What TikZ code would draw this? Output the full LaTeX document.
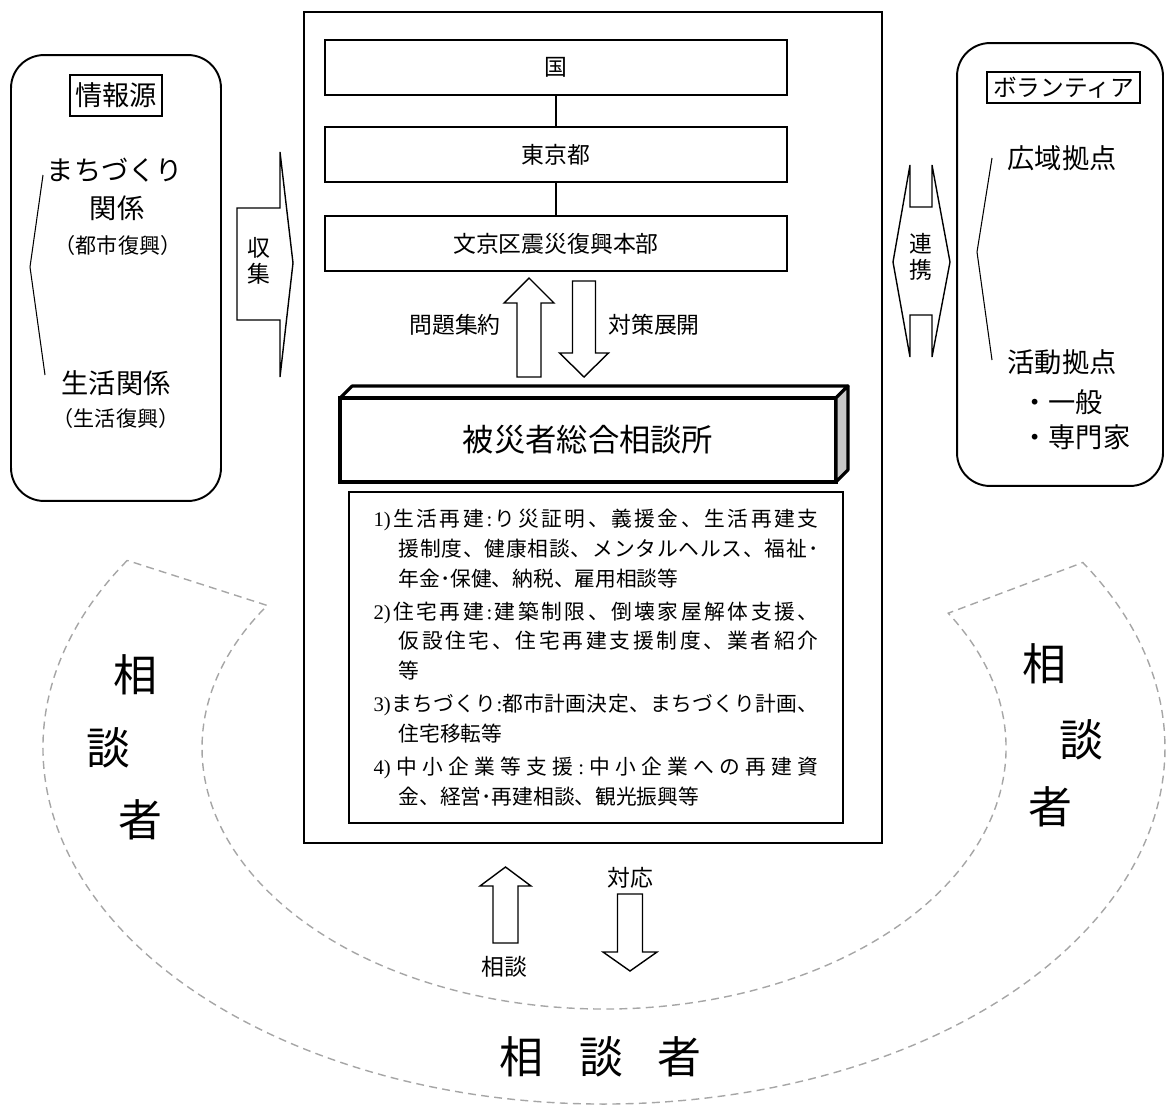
\documentclass[tikz,border=0pt]{standalone}
\usepackage{fontspec}
\setmainfont{Noto Sans CJK JP}
\newfontfamily\numfont{Liberation Serif}
\usetikzlibrary{calc, positioning}

\definecolor{ringgray}{RGB}{166,166,166}
\definecolor{sidegray}{RGB}{200,200,200}

\ExplSyntaxOn
\NewDocumentCommand{\spreadline}{mm}
  {
    \makebox[#1][s]{ \tl_map_inline:nn {#2} { \group_begin: ##1 \group_end: \hfil } \unskip }
  }
\ExplSyntaxOff

\tikzset{
    outerframe/.style={draw, line width=1.1pt},
    govbox/.style={draw, line width=1pt, minimum width=9.24cm, minimum height=1.1cm, font=\fontsize{13}{15}\selectfont},
    link/.style={line width=0.8pt},
    office/.style={draw, line width=2.2pt, outer sep=0pt, minimum width=9.92cm, minimum height=1.68cm, font=\fontsize{17.8}{20}\selectfont},
    officeface/.style={draw, line width=1.8pt, line join=round},
    services/.style={draw, line width=1pt, minimum width=9.88cm, minimum height=6.62cm, align=left, inner sep=0pt, font=\fontsize{11.8}{17}\selectfont},
    sidebox/.style={draw, line width=1.1pt, rounded corners=0.66cm},
    tagbox/.style={draw, line width=1.1pt, inner sep=1pt},
    srctext/.style={inner sep=0pt, font=\fontsize{15.5}{18}\selectfont},
    subtext/.style={inner sep=0pt, font=\fontsize{12}{14}\selectfont},
    armtext/.style={inner sep=0pt, font=\fontsize{13}{14.5}\selectfont, align=center},
    blockarrow/.style={draw, line width=0.8pt, fill=white},
    bracket/.style={line width=0.6pt},
    ring/.style={draw=ringgray, line width=0.8pt, dash pattern=on 4.5pt off 3pt},
    bigchar/.style={inner sep=0pt, font=\fontsize{25}{25}\selectfont}
}

% centre x, tail y, head base y, tip y, half shaft, half head
\newcommand{\vblock}[6]{%
    \draw[blockarrow] ({#1-#5},#2) -- ({#1-#5},#3) -- ({#1-#6},#3) -- (#1,#4)
        -- ({#1+#6},#3) -- ({#1+#5},#3) -- ({#1+#5},#2) -- cycle;}

\begin{document}
\begin{tikzpicture}[x=0.02cm, y=0.02cm]
    \useasboundingbox (0,0) rectangle (1166,-1109);

    \coordinate (rc) at (604,-748);
    \draw[ring] ($(rc)+(148.2:561 and 356)$)
        arc[start angle=148.2, end angle=391.4, x radius=561, y radius=356]
        -- ($(rc)+(31.1:402 and 261)$)
        arc[start angle=391.1, end angle=146.9, x radius=402, y radius=261] -- cycle;

    \node[outerframe, minimum width=11.56cm, minimum height=16.62cm] (frame) at (593,-427.5) {};
    \node[govbox] (kuni) at (556,-67.5) {国};
    \node[govbox] (tokyo) at (556,-154.5) {東京都};
    \node[govbox] (bunkyo) at (556,-243.5) {文京区震災復興本部};
    \draw[link] (kuni) -- (tokyo);
    \draw[link] (tokyo) -- (bunkyo);

    \vblock{529}{-377}{-303}{-278}{12}{25}
    \vblock{584}{-281}{-353}{-377}{11.5}{24.5}
    \node[armtext] (gather) at (455,-325) {問題集約};
    \node[armtext] (deploy) at (654,-325) {対策展開};

    \node[office] (desk) at (588,-440) {被災者総合相談所};
    \draw[officeface] (desk.north west) -- ++(12,12) -- ($(desk.north east)+(12,12)$) -- (desk.north east) -- cycle;
    \draw[officeface, fill=sidegray] (desk.north east) -- ++(12,12) -- ($(desk.south east)+(12,12)$) -- (desk.south east) -- cycle;

    \node[services] (menu) at (596,-657.5) {%
        \spreadline{8.9cm}{{\numfont 1)}生活再建{\numfont :}り災証明、義援金、生活再建支}\\
        \hspace*{0.5cm}\spreadline{8.4cm}{援制度、健康相談、メンタルヘルス、福祉･}\\
        \hspace*{0.5cm}年金･保健、納税、雇用相談等\\[1.7pt]
        \spreadline{8.9cm}{{\numfont 2)}住宅再建{\numfont :}建築制限、倒壊家屋解体支援、}\\
        \hspace*{0.5cm}\spreadline{8.4cm}{仮設住宅、住宅再建支援制度、業者紹介}\\
        \hspace*{0.5cm}等\\[1.7pt]
        \spreadline{8.9cm}{{\numfont 3)}まちづくり{\numfont :}都市計画決定、まちづくり計画、}\\
        \hspace*{0.5cm}住宅移転等\\[1.7pt]
        \spreadline{8.9cm}{{\numfont 4)}中小企業等支援{\numfont :}中小企業への再建資}\\
        \hspace*{0.5cm}金、経営･再建相談、観光振興等};

    % information sources
    \node[sidebox, minimum width=4.2cm, minimum height=8.92cm] (sources) at (116,-278) {};
    \node[tagbox, minimum width=1.84cm, minimum height=0.82cm, font=\fontsize{15.5}{18}\selectfont] (srctag) at (116,-95.5) {情報源};
    \node[srctext] (machi) at (115,-170) {まちづくり};
    \node[srctext] (machib) at (117,-208) {関係};
    \node[subtext] (machic) at (118,-245) {（都市復興）};
    \node[srctext] (life) at (116,-383) {生活関係};
    \node[subtext] (lifeb) at (116,-418) {（生活復興）};
    \draw[bracket] (43,-175) -- (30,-267) -- (45,-375);

    \draw[blockarrow] (237,-208) -- (280,-208) -- (280,-152) -- (293,-263) -- (280,-377) -- (280,-320) -- (237,-320) -- cycle;
    \node[armtext] (collect) at (259,-261) {収\\集};

    % volunteers
    \node[sidebox, minimum width=4.12cm, minimum height=8.86cm] (volunteers) at (1060,-264.5) {};
    \node[tagbox, minimum width=3.06cm, minimum height=0.62cm, font=\fontsize{13.5}{15}\selectfont] (voltag) at (1063.5,-87.5) {ボランティア};
    \node[srctext] (wide) at (1062,-158) {広域拠点};
    \node[srctext] (base) at (1062,-362) {活動拠点};
    \node[srctext, anchor=west] (general) at (1021,-402) {・一般};
    \node[srctext, anchor=west] (expert) at (1021,-437) {・専門家};
    \draw[bracket] (992,-158) -- (977,-252) -- (992,-360);

    \draw[blockarrow] (910,-165) -- (910,-207) -- (932,-207) -- (932,-165) -- (950,-262) -- (932,-357)
        -- (932,-315) -- (910,-315) -- (910,-357) -- (893,-262) -- cycle;
    \node[armtext] (link) at (921,-257) {連\\携};

    % consultation arrows
    \vblock{505.5}{-943}{-886}{-867}{12.5}{25.5}
    \vblock{630}{-894}{-952}{-971}{12.5}{27}
    \node[armtext] (consult) at (504,-967) {相談};
    \node[armtext] (respond) at (630,-878) {対応};

    \foreach \ch/\x/\y [count=\i] in {相/135/675, 談/108/748, 者/140/820}
        \node[bigchar] (left\i) at (\x,-\y) {\ch};
    \foreach \ch/\x/\y [count=\i] in {相/1044/664, 談/1081/740, 者/1050/807}
        \node[bigchar] (right\i) at (\x,-\y) {\ch};
    \foreach \ch/\x [count=\i] in {相/521, 談/601, 者/679}
        \node[bigchar] (bottom\i) at (\x,-1057) {\ch};
\end{tikzpicture}
\end{document}
